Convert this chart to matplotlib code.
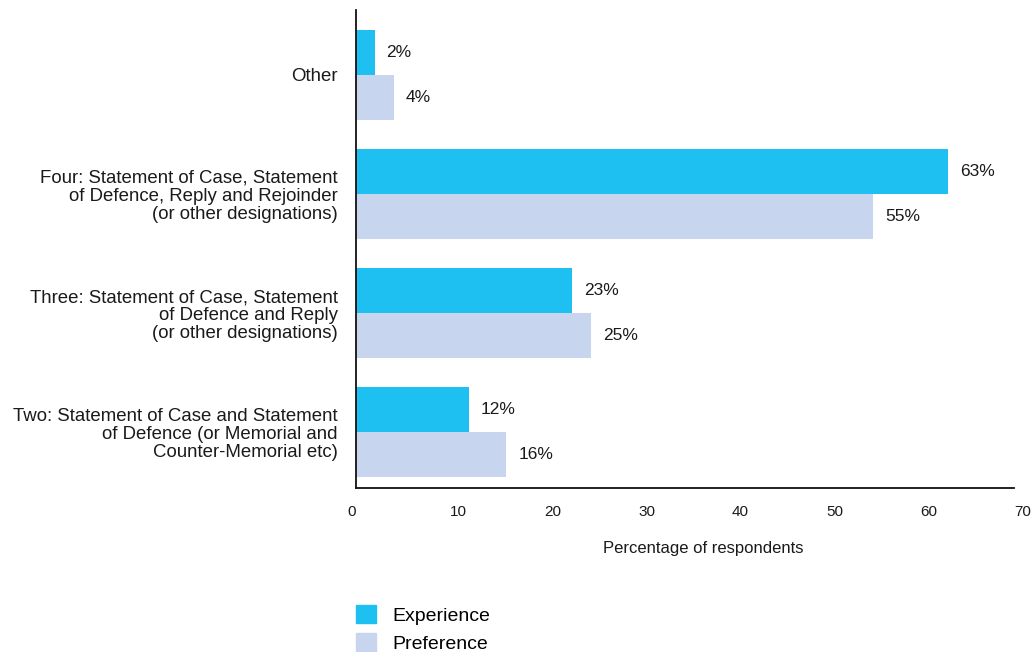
import matplotlib
matplotlib.use("Agg")
import matplotlib.pyplot as plt
from matplotlib.patches import Patch

categories = [
    "Two: Statement of Case and Statement\nof Defence (or Memorial and\nCounter-Memorial etc)",
    "Three: Statement of Case, Statement\nof Defence and Reply\n(or other designations)",
    "Four: Statement of Case, Statement\nof Defence, Reply and Rejoinder\n(or other designations)",
    "Other",
]
experience = [12, 23, 63, 2]
preference = [16, 25, 55, 4]
series_names = ["Experience", "Preference"]
xticks = [0, 10, 20, 30, 40, 50, 60, 70]

c_exp = "#1EBFF1"
c_pref = "#C8D5EE"

plt.rcParams["font.family"] = ["Liberation Sans", "DejaVu Sans"]

fig = plt.figure(figsize=(10.32, 6.52), dpi=100)
ax = fig.add_axes([356/1032, 1-488/652, (1014-356)/1032, (488-10)/652])

h = 0.378
pos = list(range(len(categories)))
ax.barh([p + h/2 for p in pos], experience, height=h, color=c_exp)
ax.barh([p - h/2 for p in pos], preference, height=h, color=c_pref)

for p, v in zip(pos, experience):
    ax.annotate(f"{v}%", (v, p + h/2), xytext=(8.5, 0), textcoords="offset points",
                va="center", ha="left", fontsize=12.5, color="#1a1a1a")
for p, v in zip(pos, preference):
    ax.annotate(f"{v}%", (v, p - h/2), xytext=(8.5, 0), textcoords="offset points",
                va="center", ha="left", fontsize=12.5, color="#1a1a1a")

ax.set_xlim(0, 70)
ax.set_ylim(-0.47, 3.546)
ax.set_yticks(pos)
ax.set_yticklabels(categories, fontsize=13.4, linespacing=1.08, color="#1a1a1a")
ax.set_xticks(xticks)
ax.set_xticklabels([str(t) for t in xticks], fontsize=11, color="#1a1a1a")
for i, lab in enumerate(ax.get_xticklabels()):
    lab.set_horizontalalignment("right" if i == 0 else "left")
ax.tick_params(axis="both", length=0)
ax.tick_params(axis="y", pad=13)
ax.tick_params(axis="x", pad=12)
for s in ["top", "right"]:
    ax.spines[s].set_visible(False)
for s in ["left", "bottom"]:
    ax.spines[s].set_linewidth(1.3)
    ax.spines[s].set_color("#111111")

fig.text(703/1032, 1-548/652, "Percentage of respondents", ha="center", va="center",
         fontsize=12, color="#1a1a1a")

handles = [Patch(color=c_exp, label=series_names[0]), Patch(color=c_pref, label=series_names[1])]
fig.legend(handles=handles, loc="upper left", bbox_to_anchor=(348/1032, 1-597/652),
           frameon=False, fontsize=14, handlelength=1.05, handleheight=1.1,
           handletextpad=0.85, labelspacing=0.42, borderaxespad=0)

fig.savefig("out.png", dpi=100, facecolor="white")
